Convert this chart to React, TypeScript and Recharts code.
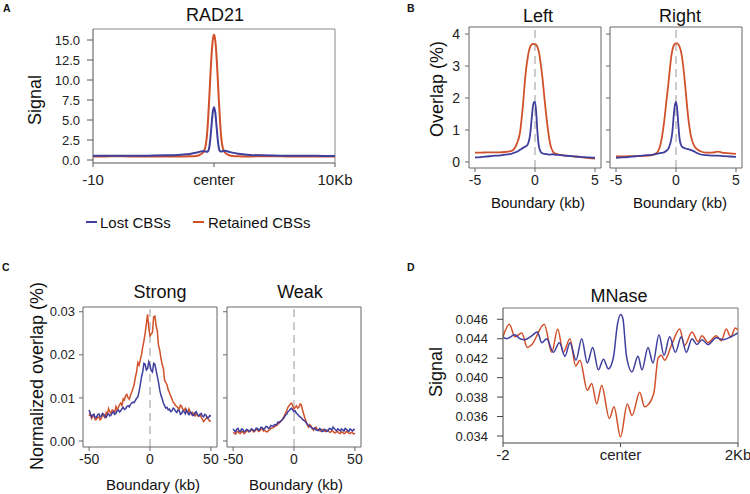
import React from 'react';
import { LineChart, Line, XAxis, YAxis, ReferenceLine } from 'recharts';

const BLUE = '#3f3f9d';
const RED = '#d1512b';
const FONT = '"Liberation Sans", Arial, Helvetica, sans-serif';

const seriesNames = ['Lost CBSs', 'Retained CBSs'];

// A: RAD21 signal around CBS centers (kb)
const radX = [-10, -9, -8, -7, -6, -5, -4, -3, -2.5, -2, -1.5, -1.25, -1, -0.8, -0.7, -0.6, -0.5, -0.4, -0.3, -0.2, -0.1, 0, 0.1, 0.2, 0.3, 0.4, 0.5, 0.6, 0.7, 0.8, 1, 1.25, 1.5, 2, 2.5, 3, 4, 5, 6, 7, 8, 9, 10];
const radLost = [0.52, 0.52, 0.53, 0.52, 0.53, 0.55, 0.58, 0.63, 0.68, 0.76, 0.9, 1.0, 1.08, 1.1, 1.06, 1.02, 1.1, 1.5, 2.7, 4.4, 6.0, 6.6, 6.0, 4.4, 2.7, 1.5, 1.1, 1.05, 1.1, 1.15, 1.12, 1.02, 0.92, 0.78, 0.7, 0.64, 0.58, 0.55, 0.53, 0.52, 0.52, 0.51, 0.5];
const radRetained = [0.45, 0.45, 0.46, 0.45, 0.45, 0.44, 0.44, 0.44, 0.44, 0.46, 0.5, 0.6, 0.8, 1.2, 1.7, 2.8, 4.8, 7.5, 10.5, 13.2, 15.0, 15.7, 15.0, 13.2, 10.5, 7.5, 4.8, 2.8, 1.7, 1.2, 0.8, 0.6, 0.5, 0.46, 0.45, 0.45, 0.46, 0.46, 0.45, 0.45, 0.44, 0.44, 0.44];
const radXTicks = [-10, 0, 10];
const radXLabels = ['-10', 'center', '10Kb'];
const radYTicks = [0, 2.5, 5, 7.5, 10, 12.5, 15];

// B: overlap at TAD boundaries (kb)
const bX = [-5, -4.5, -4, -3.5, -3, -2.5, -2, -1.75, -1.5, -1.25, -1, -0.8, -0.6, -0.5, -0.4, -0.3, -0.2, -0.1, 0, 0.1, 0.2, 0.3, 0.4, 0.5, 0.6, 0.8, 1, 1.25, 1.5, 1.75, 2, 2.5, 3, 3.5, 4, 4.5, 5];
const leftLost = [0.14, 0.15, 0.17, 0.19, 0.2, 0.23, 0.25, 0.29, 0.32, 0.38, 0.44, 0.48, 0.55, 0.66, 0.88, 1.25, 1.65, 1.86, 1.88, 1.55, 0.95, 0.55, 0.38, 0.3, 0.27, 0.25, 0.24, 0.23, 0.24, 0.22, 0.22, 0.2, 0.18, 0.17, 0.15, 0.14, 0.13];
const leftRetained = [0.29, 0.29, 0.3, 0.3, 0.3, 0.31, 0.34, 0.4, 0.58, 0.92, 1.8, 2.7, 3.28, 3.48, 3.6, 3.66, 3.69, 3.69, 3.68, 3.66, 3.6, 3.48, 3.28, 3.0, 2.7, 1.95, 1.25, 0.58, 0.32, 0.25, 0.23, 0.2, 0.18, 0.16, 0.14, 0.12, 0.1];
const rightLost = [0.13, 0.14, 0.15, 0.17, 0.19, 0.21, 0.22, 0.24, 0.26, 0.28, 0.3, 0.35, 0.44, 0.55, 0.7, 0.95, 1.4, 1.76, 1.88, 1.65, 1.15, 0.72, 0.55, 0.48, 0.45, 0.42, 0.4, 0.37, 0.33, 0.28, 0.24, 0.21, 0.2, 0.2, 0.18, 0.17, 0.16];
const rightRetained = [0.17, 0.17, 0.18, 0.18, 0.19, 0.19, 0.21, 0.25, 0.33, 0.62, 1.22, 1.9, 2.57, 2.95, 3.28, 3.5, 3.63, 3.69, 3.71, 3.71, 3.67, 3.6, 3.48, 3.28, 3.0, 2.25, 1.45, 0.8, 0.52, 0.4, 0.34, 0.29, 0.29, 0.32, 0.28, 0.27, 0.25];
const bXTicks = [-5, 0, 5];
const bYTicks = [0, 1, 2, 3, 4];

// C: normalized overlap, strong vs weak boundaries (kb, 1 kb bins)
const cX = [
  -50, -49, -48, -47, -46, -45, -44, -43, -42, -41,
  -40, -39, -38, -37, -36, -35, -34, -33, -32, -31,
  -30, -29, -28, -27, -26, -25, -24, -23, -22, -21,
  -20, -19, -18, -17, -16, -15, -14, -13, -12, -11,
  -10, -9, -8, -7, -6, -5, -4, -3, -2, -1,
  0, 1, 2, 3, 4, 5, 6, 7, 8, 9,
  10, 11, 12, 13, 14, 15, 16, 17, 18, 19,
  20, 21, 22, 23, 24, 25, 26, 27, 28, 29,
  30, 31, 32, 33, 34, 35, 36, 37, 38, 39,
  40, 41, 42, 43, 44, 45, 46, 47, 48, 49,
  50,
];
const strongLost = [
  0.0072, 0.0063, 0.0056, 0.006, 0.0062, 0.0054, 0.0055, 0.0061, 0.0063, 0.0056,
  0.0058, 0.0064, 0.0062, 0.0057, 0.0055, 0.0061, 0.0063, 0.0058, 0.006, 0.0065,
  0.0068, 0.0062, 0.0064, 0.007, 0.0072, 0.0067, 0.007, 0.0075, 0.0078, 0.0073,
  0.0075, 0.008, 0.0082, 0.0079, 0.0085, 0.0088, 0.009, 0.0089, 0.0094, 0.0099,
  0.0102, 0.0114, 0.013, 0.0148, 0.016, 0.018, 0.0178, 0.0165, 0.0168, 0.0184,
  0.0176, 0.0163, 0.016, 0.018, 0.0178, 0.0164, 0.015, 0.0136, 0.0118, 0.0106,
  0.0098, 0.0088, 0.0082, 0.0076, 0.0078, 0.0072, 0.0074, 0.0068, 0.007, 0.0076,
  0.0074, 0.0069, 0.0066, 0.0072, 0.007, 0.0062, 0.0064, 0.007, 0.0068, 0.0063,
  0.0072, 0.0066, 0.0061, 0.0067, 0.0066, 0.0059, 0.006, 0.0066, 0.0068, 0.0061,
  0.0058, 0.0062, 0.0064, 0.0058, 0.0056, 0.0062, 0.006, 0.0053, 0.0054, 0.0059,
  0.0057,
];
const strongRetained = [
  0.0058, 0.0064, 0.0052, 0.0057, 0.006, 0.0049, 0.005, 0.0056, 0.0055, 0.0049,
  0.0052, 0.0061, 0.0058, 0.0054, 0.0066, 0.0061, 0.0075, 0.0068, 0.0064, 0.0072,
  0.007, 0.0066, 0.008, 0.0073, 0.0078, 0.0084, 0.0088, 0.0082, 0.0098, 0.0095,
  0.0105, 0.0108, 0.01, 0.0097, 0.0106, 0.0113, 0.0122, 0.0131, 0.0148, 0.016,
  0.0182, 0.0176, 0.0188, 0.02, 0.0218, 0.0232, 0.025, 0.0272, 0.0294, 0.0262,
  0.0244, 0.0248, 0.0252, 0.0288, 0.029, 0.0268, 0.0255, 0.0222, 0.021, 0.0192,
  0.0178, 0.0168, 0.014, 0.0136, 0.013, 0.0118, 0.0112, 0.0104, 0.0098, 0.009,
  0.0087, 0.0082, 0.008, 0.0077, 0.0074, 0.0083, 0.008, 0.0073, 0.0071, 0.0076,
  0.0068, 0.0065, 0.0074, 0.0067, 0.0062, 0.0066, 0.006, 0.0058, 0.0065, 0.0059,
  0.0057, 0.0061, 0.0055, 0.005, 0.0045, 0.0049, 0.0052, 0.0055, 0.005, 0.0046,
  0.0047,
];
const weakLost = [
  0.0028, 0.0024, 0.0021, 0.0027, 0.0029, 0.0023, 0.0022, 0.0028, 0.0027, 0.0021,
  0.0023, 0.0027, 0.0026, 0.0022, 0.0024, 0.0028, 0.0027, 0.0023, 0.0025, 0.003,
  0.0029, 0.0025, 0.0027, 0.0032, 0.0031, 0.0027, 0.0029, 0.0034, 0.0033, 0.0029,
  0.0031, 0.0036, 0.0035, 0.0034, 0.0038, 0.0037, 0.004, 0.0044, 0.0043, 0.0046,
  0.0048, 0.0051, 0.0055, 0.006, 0.0062, 0.0068, 0.007, 0.0074, 0.0076, 0.0072,
  0.0068, 0.007, 0.0064, 0.0062, 0.0058, 0.0056, 0.0054, 0.005, 0.0048, 0.0046,
  0.0042, 0.0039, 0.0036, 0.0034, 0.0032, 0.003, 0.0028, 0.003, 0.0026, 0.0025,
  0.0024, 0.0029, 0.0027, 0.0022, 0.0023, 0.0027, 0.0026, 0.0022, 0.0024, 0.0029,
  0.0028, 0.0026, 0.0032, 0.0029, 0.0026, 0.0024, 0.0028, 0.0026, 0.0023, 0.0028,
  0.0026, 0.0023, 0.0029, 0.0027, 0.0024, 0.0022, 0.0028, 0.0026, 0.0023, 0.0027,
  0.0026,
];
const weakRetained = [
  0.002, 0.0018, 0.0016, 0.0021, 0.0022, 0.0018, 0.0017, 0.0022, 0.0021, 0.0017,
  0.0019, 0.0023, 0.0024, 0.0021, 0.0022, 0.0026, 0.0025, 0.0021, 0.0023, 0.0027,
  0.0026, 0.0022, 0.0024, 0.0028, 0.0027, 0.0023, 0.0025, 0.0022, 0.0021, 0.0024,
  0.0026, 0.0029, 0.003, 0.0031, 0.0033, 0.0035, 0.0036, 0.004, 0.0042, 0.0045,
  0.0048, 0.0053, 0.0058, 0.0064, 0.007, 0.0078, 0.0082, 0.0086, 0.0088, 0.0081,
  0.0074, 0.0078, 0.0082, 0.0076, 0.0078, 0.0086, 0.0084, 0.0072, 0.0062, 0.0052,
  0.0045, 0.0036, 0.0032, 0.0038, 0.0035, 0.0028, 0.0025, 0.003, 0.0032, 0.0027,
  0.0026, 0.0024, 0.0023, 0.0026, 0.0027, 0.0023, 0.0022, 0.0025, 0.0024, 0.0021,
  0.002, 0.0024, 0.0023, 0.0019, 0.0019, 0.0022, 0.0021, 0.0018, 0.0017, 0.0021,
  0.002, 0.0017, 0.0018, 0.0022, 0.0021, 0.0018, 0.0017, 0.002, 0.0019, 0.0016,
  0.0018,
];
const cXTicks = [-50, 0, 50];
const cYTicks = [0, 0.01, 0.02, 0.03];

// D: MNase signal (kb)
const mnLostX = [-2, -1.94, -1.8, -1.71, -1.63, -1.51, -1.416, -1.34, -1.256, -1.144, -1.04, -0.945, -0.86, -0.757, -0.66, -0.565, -0.473, -0.377, -0.29, -0.207, -0.12, -0.054, 0, 0.04, 0.1, 0.196, 0.298, 0.366, 0.468, 0.553, 0.655, 0.74, 0.837, 0.933, 1.035, 1.12, 1.217, 1.3, 1.387, 1.49, 1.63, 1.75, 1.88, 2];
const mnLost = [0.0442, 0.044, 0.0444, 0.044, 0.0439, 0.0443, 0.0447, 0.0436, 0.044, 0.0426, 0.0436, 0.0422, 0.0436, 0.0418, 0.044, 0.0415, 0.0431, 0.0408, 0.0419, 0.0409, 0.0421, 0.0454, 0.0465, 0.0461, 0.0423, 0.0406, 0.0422, 0.0408, 0.0431, 0.0415, 0.0444, 0.0423, 0.0442, 0.0426, 0.0442, 0.0426, 0.044, 0.0434, 0.0439, 0.0434, 0.0441, 0.0439, 0.0442, 0.0446];
const mnRetX = [-2, -1.893, -1.796, -1.68, -1.586, -1.51, -1.297, -1.17, -1.069, -0.973, -0.86, -0.763, -0.69, -0.565, -0.49, -0.405, -0.32, -0.19, -0.11, 0, 0.116, 0.196, 0.327, 0.41, 0.468, 0.57, 0.64, 0.695, 0.752, 0.865, 1.007, 1.09, 1.217, 1.32, 1.387, 1.49, 1.63, 1.716, 1.8, 1.876, 1.955, 2];
const mnRetained = [0.0442, 0.0455, 0.0442, 0.0446, 0.0431, 0.0434, 0.0455, 0.0426, 0.045, 0.0426, 0.044, 0.0412, 0.0418, 0.0387, 0.0394, 0.0373, 0.0392, 0.0358, 0.037, 0.0339, 0.0373, 0.0361, 0.0385, 0.037, 0.0372, 0.0385, 0.042, 0.0423, 0.0418, 0.0433, 0.045, 0.0433, 0.0447, 0.0437, 0.0443, 0.0436, 0.0443, 0.0438, 0.045, 0.0442, 0.0451, 0.0449];
const mnXTicks = [-2, 0, 2];
const mnXLabels = ['-2', 'center', '2Kb'];
const mnYTicks = [0.034, 0.036, 0.038, 0.04, 0.042, 0.044, 0.046];

type Series = { color: string; xs: number[]; ys: number[] };
type TickStyle = { size: number; margin: number; font: number };

type PanelProps = {
  plot: number[];
  yw: number;
  rightPad?: number;
  series: Series[];
  curve: 'monotone' | 'linear';
  lineWidth: number;
  xDomain: number[];
  xTicks: number[];
  xFormat: (v: number) => string;
  xTick: TickStyle;
  yDomain: number[];
  yTicks: number[];
  yFormat: (v: number) => string;
  yTick: TickStyle;
  axisColor: string;
  frameColor: string;
  zeroLine?: boolean;
};

function Panel(p: PanelProps) {
  const [left, top, w, h] = p.plot;
  const pad = 3;
  const rightPad = p.rightPad ?? 3;
  const xh = 40;
  const rows = p.series.map((s) => s.xs.map((x, i) => ({ x, y: s.ys[i] })));
  return (
    <div style={{ position: 'absolute', left: left - p.yw, top: top - pad }}>
      <LineChart width={p.yw + w + rightPad} height={pad + h + xh} margin={{ top: pad, right: rightPad, bottom: 0, left: 0 }}>
        <XAxis
          xAxisId="b"
          dataKey="x"
          type="number"
          domain={p.xDomain}
          allowDataOverflow
          ticks={p.xTicks}
          interval={0}
          tickFormatter={p.xFormat}
          height={xh}
          tickSize={p.xTick.size}
          tickMargin={p.xTick.margin}
          stroke={p.axisColor}
          tick={{ fontSize: p.xTick.font, fill: '#222', fontFamily: FONT }}
        />
        <YAxis
          yAxisId="l"
          type="number"
          domain={p.yDomain}
          allowDataOverflow
          ticks={p.yTicks}
          interval={0}
          tickFormatter={p.yFormat}
          width={p.yw}
          tickSize={p.yTick.size}
          tickMargin={p.yTick.margin}
          stroke={p.axisColor}
          tick={{ fontSize: p.yTick.font, fill: '#222', fontFamily: FONT }}
        />
        {/* panel frame: top and right edges */}
        <ReferenceLine xAxisId="b" yAxisId="l" y={p.yDomain[1]} stroke={p.frameColor} ifOverflow="visible" />
        <ReferenceLine xAxisId="b" yAxisId="l" x={p.xDomain[1]} stroke={p.frameColor} ifOverflow="visible" />
        {p.zeroLine && <ReferenceLine xAxisId="b" yAxisId="l" x={0} stroke="#9a9a9a" strokeDasharray="8 5" />}
        {rows.map((d, i) => (
          <Line
            key={i}
            xAxisId="b"
            yAxisId="l"
            data={d}
            dataKey="y"
            type={p.curve}
            stroke={p.series[i].color}
            strokeWidth={p.lineWidth}
            dot={false}
            isAnimationActive={false}
          />
        ))}
      </LineChart>
    </div>
  );
}

const none = () => '';
const plain = (v: number) => String(v);

export default function App() {
  const t = { fontFamily: FONT, fill: '#111' };
  return (
    <div style={{ position: 'absolute', left: 0, top: 0, width: 750, height: 494, background: '#fff', overflow: 'hidden' }}>
      {/* A */}
      <Panel
        plot={[93, 29, 242, 134]}
        yw={93}
        rightPad={30}
        series={[
          { color: RED, xs: radX, ys: radRetained },
          { color: BLUE, xs: radX, ys: radLost },
        ]}
        curve="monotone"
        lineWidth={2}
        xDomain={[-10, 10]}
        xTicks={radXTicks}
        xFormat={(v) => radXLabels[radXTicks.indexOf(v)]}
        xTick={{ size: 4, margin: 7, font: 15 }}
        yDomain={[-0.375, 16.375]}
        yTicks={radYTicks}
        yFormat={(v) => v.toFixed(1)}
        yTick={{ size: 6, margin: 7, font: 13 }}
        axisColor="#555"
        frameColor="#888"
      />
      {/* B */}
      <Panel
        plot={[469, 27, 132, 141]}
        yw={50}
        series={[
          { color: RED, xs: bX, ys: leftRetained },
          { color: BLUE, xs: bX, ys: leftLost },
        ]}
        curve="monotone"
        lineWidth={1.8}
        xDomain={[-5.5, 5.5]}
        xTicks={bXTicks}
        xFormat={plain}
        xTick={{ size: 4, margin: 3, font: 14 }}
        yDomain={[-0.19, 4.22]}
        yTicks={bYTicks}
        yFormat={plain}
        yTick={{ size: 4, margin: 5, font: 14 }}
        axisColor="#666"
        frameColor="#666"
        zeroLine
      />
      <Panel
        plot={[610, 27, 132, 141]}
        yw={8}
        series={[
          { color: RED, xs: bX, ys: rightRetained },
          { color: BLUE, xs: bX, ys: rightLost },
        ]}
        curve="monotone"
        lineWidth={1.8}
        xDomain={[-5.5, 5.5]}
        xTicks={bXTicks}
        xFormat={plain}
        xTick={{ size: 4, margin: 3, font: 14 }}
        yDomain={[-0.19, 4.22]}
        yTicks={bYTicks}
        yFormat={none}
        yTick={{ size: 4, margin: 2, font: 14 }}
        axisColor="#666"
        frameColor="#666"
        zeroLine
      />
      {/* C */}
      <Panel
        plot={[83, 307, 134, 140]}
        yw={80}
        series={[
          { color: RED, xs: cX, ys: strongRetained },
          { color: BLUE, xs: cX, ys: strongLost },
        ]}
        curve="linear"
        lineWidth={1.5}
        xDomain={[-55, 55]}
        xTicks={cXTicks}
        xFormat={plain}
        xTick={{ size: 4, margin: 3, font: 14 }}
        yDomain={[-0.0014, 0.0311]}
        yTicks={cYTicks}
        yFormat={(v) => v.toFixed(2)}
        yTick={{ size: 4, margin: 4, font: 13 }}
        axisColor="#666"
        frameColor="#666"
        zeroLine
      />
      <Panel
        plot={[227, 307, 134, 140]}
        yw={8}
        series={[
          { color: RED, xs: cX, ys: weakRetained },
          { color: BLUE, xs: cX, ys: weakLost },
        ]}
        curve="linear"
        lineWidth={1.5}
        xDomain={[-55, 55]}
        xTicks={cXTicks}
        xFormat={plain}
        xTick={{ size: 4, margin: 3, font: 14 }}
        yDomain={[-0.0014, 0.0311]}
        yTicks={cYTicks}
        yFormat={none}
        yTick={{ size: 4, margin: 2, font: 13 }}
        axisColor="#666"
        frameColor="#666"
        zeroLine
      />
      {/* D */}
      <Panel
        plot={[503, 308, 235, 135]}
        yw={80}
        rightPad={12}
        series={[
          { color: RED, xs: mnRetX, ys: mnRetained },
          { color: BLUE, xs: mnLostX, ys: mnLost },
        ]}
        curve="monotone"
        lineWidth={1.5}
        xDomain={[-2, 2]}
        xTicks={mnXTicks}
        xFormat={(v) => mnXLabels[mnXTicks.indexOf(v)]}
        xTick={{ size: 4, margin: 2, font: 15 }}
        yDomain={[0.03328, 0.04716]}
        yTicks={mnYTicks}
        yFormat={(v) => v.toFixed(3)}
        yTick={{ size: 6, margin: 9, font: 13 }}
        axisColor="#444"
        frameColor="#777"
      />
      <svg width={750} height={494} style={{ position: 'absolute', left: 0, top: 0, pointerEvents: 'none' }}>
        <g style={{ fontFamily: FONT }}>
          <text x={3} y={12} fontSize={10.5} fontWeight="bold" {...t}>A</text>
          <text x={407} y={12} fontSize={10.5} fontWeight="bold" {...t}>B</text>
          <text x={2} y={271} fontSize={10.5} fontWeight="bold" {...t}>C</text>
          <text x={407} y={271} fontSize={10.5} fontWeight="bold" {...t}>D</text>

          <text x={215} y={21} fontSize={18} textAnchor="middle" {...t}>RAD21</text>
          <text transform="translate(41,100) rotate(-90)" fontSize={18} textAnchor="middle" {...t}>Signal</text>
          <line x1={86} x2={97} y1={222} y2={222} stroke={BLUE} strokeWidth={2} />
          <text x={100} y={228} fontSize={15} {...t}>{seriesNames[0]}</text>
          <line x1={193} x2={204} y1={222} y2={222} stroke={RED} strokeWidth={2} />
          <text x={208} y={228} fontSize={15} {...t}>{seriesNames[1]}</text>

          <text x={538} y={22} fontSize={18} textAnchor="middle" {...t}>Left</text>
          <text x={680} y={22} fontSize={18} textAnchor="middle" {...t}>Right</text>
          <text transform="translate(443,89) rotate(-90)" fontSize={18} textAnchor="middle" {...t}>Overlap (%)</text>
          <text x={538} y={208} fontSize={15} textAnchor="middle" {...t}>Boundary (kb)</text>
          <text x={680} y={208} fontSize={15} textAnchor="middle" {...t}>Boundary (kb)</text>

          <text x={160} y={298} fontSize={18} textAnchor="middle" {...t}>Strong</text>
          <text x={300} y={298} fontSize={18} textAnchor="middle" {...t}>Weak</text>
          <text transform="translate(43,376) rotate(-90)" fontSize={18} textAnchor="middle" {...t}>Normalized overlap (%)</text>
          <text x={153} y={490} fontSize={15} textAnchor="middle" {...t}>Boundary (kb)</text>
          <text x={296} y={490} fontSize={15} textAnchor="middle" {...t}>Boundary (kb)</text>

          <text x={619} y={302} fontSize={18} textAnchor="middle" {...t}>MNase</text>
          <text transform="translate(442,372) rotate(-90)" fontSize={18} textAnchor="middle" {...t}>Signal</text>
        </g>
      </svg>
    </div>
  );
}
